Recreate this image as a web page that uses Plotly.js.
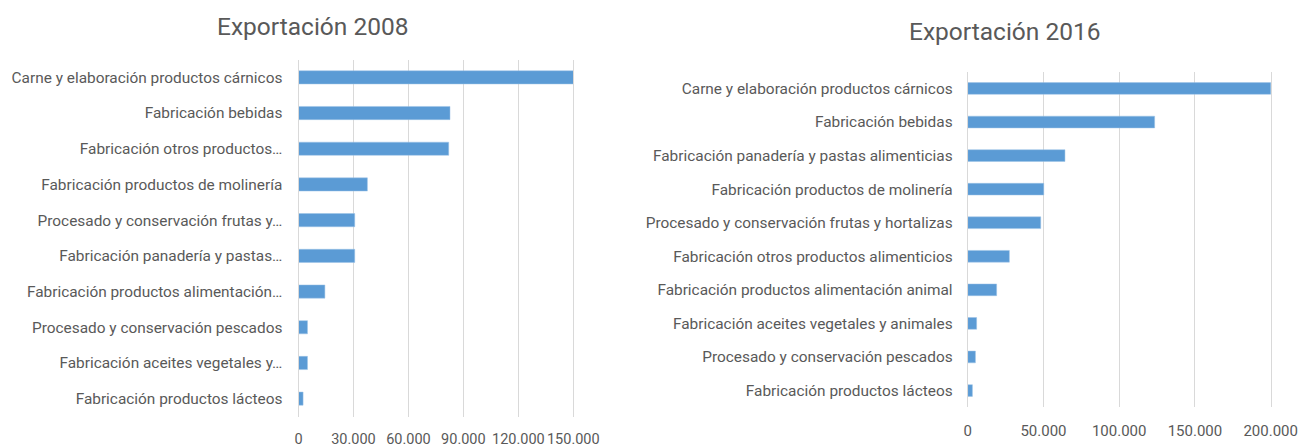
<!DOCTYPE html>
<html>
<head>
<meta charset="utf-8">
<script src="https://cdn.plot.ly/plotly-3.0.1.min.js"></script>
<style>html,body{margin:0;padding:0;background:#fff}#chart{width:1300px;height:448px}</style>
</head>
<body>
<div id="chart"></div>
<script>
const categories2008 = [
  "Carne y elaboración productos cárnicos",
  "Fabricación bebidas",
  "Fabricación otros productos…",
  "Fabricación productos de molinería",
  "Procesado y conservación frutas y…",
  "Fabricación panadería y pastas…",
  "Fabricación productos alimentación…",
  "Procesado y conservación pescados",
  "Fabricación aceites vegetales y…",
  "Fabricación productos lácteos"
];
const values2008 = [150400, 82700, 82000, 37600, 30700, 30700, 14400, 4900, 4900, 2500];

const categories2016 = [
  "Carne y elaboración productos cárnicos",
  "Fabricación bebidas",
  "Fabricación panadería y pastas alimenticias",
  "Fabricación productos de molinería",
  "Procesado y conservación frutas y hortalizas",
  "Fabricación otros productos alimenticios",
  "Fabricación productos alimentación animal",
  "Fabricación aceites vegetales y animales",
  "Procesado y conservación pescados",
  "Fabricación productos lácteos"
];
const values2016 = [200900, 123400, 64200, 50200, 48200, 27500, 19100, 5900, 5100, 3100];

const ticks2008 = [0, 30000, 60000, 90000, 120000, 150000];
const ticks2016 = [0, 50000, 100000, 150000, 200000];

const titles = ["Exportación 2008", "Exportación 2016"];

const barColor = "#5b9bd5";
const textColor = "#595959";
const gridColor = "#d9d9d9";
const fontFamily = "Roboto, 'Open Sans', sans-serif";

const traces = [
  {type: "bar", orientation: "h", x: values2008, y: categories2008, xaxis: "x", yaxis: "y",
   marker: {color: barColor, line: {color: "#9dc3e6", width: 0.5}}, width: 0.37, hoverinfo: "x+y"},
  {type: "bar", orientation: "h", x: values2016, y: categories2016, xaxis: "x2", yaxis: "y2",
   marker: {color: barColor, line: {color: "#9dc3e6", width: 0.5}}, width: 0.35, hoverinfo: "x+y"}
];

const W = 1300, H = 448;
function px(a, b) { return [a / W, b / W]; }
function py(top, bottom) { return [(H - bottom) / H, (H - top) / H]; }

const xaxisBase = {
  showgrid: true, gridcolor: gridColor, gridwidth: 1,
  zeroline: false, showline: false,
  tickmode: "array", tickformat: ",d", tickangle: 0,
  ticks: "",
  tickfont: {family: fontFamily, size: 15, color: textColor},
  fixedrange: true, automargin: false
};
const yaxisBase = {
  autorange: "reversed", showgrid: false, zeroline: false,
  showline: true, mirror: true, linecolor: gridColor, linewidth: 1,
  ticks: "", tickfont: {family: fontFamily, size: 15.4, color: textColor},
  fixedrange: true, automargin: false
};

const layout = {
  width: W, height: H,
  margin: {l: 0, r: 0, t: 0, b: 0},
  paper_bgcolor: "#ffffff", plot_bgcolor: "#ffffff",
  separators: ",.",
  showlegend: false,
  xaxis: Object.assign({}, xaxisBase, {domain: px(298.5, 573.3), range: [0, 150000],
    tickvals: ticks2008, ticklabelstandoff: 12, anchor: "y",
    tickfont: {family: fontFamily, size: 14.5, color: textColor}}),
  yaxis: Object.assign({}, yaxisBase, {domain: py(59.5, 416.5), anchor: "x", ticklabelstandoff: 12}),
  xaxis2: Object.assign({}, xaxisBase, {domain: px(967.7, 1270.7), range: [0, 200000],
    tickvals: ticks2016, ticklabelstandoff: 13, anchor: "y2"}),
  yaxis2: Object.assign({}, yaxisBase, {domain: py(71.7, 407.3), anchor: "x2", ticklabelstandoff: 11}),
  annotations: [
    {text: titles[0], xref: "paper", yref: "paper", x: 313 / W, y: (H - 26) / H,
     xanchor: "center", yanchor: "middle", showarrow: false,
     font: {family: fontFamily, size: 24.5, color: textColor}},
    {text: titles[1], xref: "paper", yref: "paper", x: 1005 / W, y: (H - 31) / H,
     xanchor: "center", yanchor: "middle", showarrow: false,
     font: {family: fontFamily, size: 24.5, color: textColor}}
  ]
};

Plotly.newPlot("chart", traces, layout, {displayModeBar: false, staticPlot: true});
</script>
</body>
</html>
